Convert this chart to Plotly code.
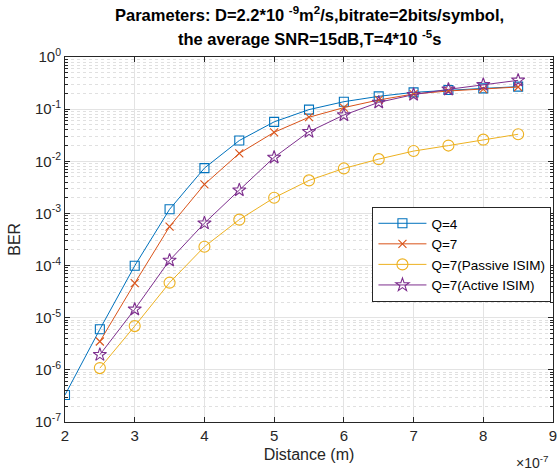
import plotly.graph_objects as go

# Distance in units of 1e-7 m
dist_q4 = [2, 2.5, 3, 3.5, 4, 4.5, 5, 5.5, 6, 6.5, 7, 7.5, 8, 8.5]
ber_q4 = [3.3e-7, 6.0e-6, 9.9e-5, 1.2e-3, 7.4e-3, 2.5e-2, 5.7e-2, 0.098, 0.139, 0.176, 0.21, 0.233, 0.25, 0.27]

dist = [2.5, 3, 3.5, 4, 4.5, 5, 5.5, 6, 6.5, 7, 7.5, 8, 8.5]
ber_q7 = [3.5e-6, 4.6e-5, 5.6e-4, 3.6e-3, 1.42e-2, 3.6e-2, 0.07, 0.107, 0.15, 0.195, 0.223, 0.243, 0.266]
ber_passive = [1.08e-6, 6.9e-6, 4.7e-5, 2.3e-4, 7.6e-4, 2.0e-3, 4.3e-3, 7.3e-3, 0.011, 0.0157, 0.020, 0.026, 0.033]
ber_active = [1.95e-6, 1.45e-5, 1.26e-4, 6.5e-4, 2.8e-3, 1.19e-2, 0.037, 0.077, 0.135, 0.19, 0.24, 0.295, 0.357]

series_names = ["Q=4", "Q=7", "Q=7(Passive ISIM)", "Q=7(Active ISIM)"]
colors = ["#0072BD", "#D95319", "#EDB120", "#7E2F8E"]

ytick_vals = [1e-7, 1e-6, 1e-5, 1e-4, 1e-3, 1e-2, 1e-1, 1e0]
ytick_text = ["10<sup>-7</sup>", "10<sup>-6</sup>", "10<sup>-5</sup>", "10<sup>-4</sup>",
              "10<sup>-3</sup>", "10<sup>-2</sup>", "10<sup>-1</sup>", "10<sup>0</sup>"]
xtick_vals = [2, 3, 4, 5, 6, 7, 8, 9]

FONT = "Liberation Sans, Arial, Helvetica, sans-serif"
AX = "#262626"

fig = go.Figure()
specs = [
    (dist_q4, ber_q4, "square-open", 9),
    (dist, ber_q7, "x-thin-open", 8),
    (dist, ber_passive, "circle-open", 11),
    (dist, ber_active, "star-open", 10),
]
for (xs, ys, sym, sz), name, c in zip(specs, series_names, colors):
    fig.add_trace(go.Scatter(
        x=xs, y=ys, mode="lines+markers", name=name,
        line=dict(color=c, width=1),
        marker=dict(symbol=sym, size=sz, color=c, line=dict(color=c, width=1.1)),
    ))

fig.update_layout(
    width=560, height=474,
    margin=dict(l=65, r=3, t=57, b=52),
    paper_bgcolor="white", plot_bgcolor="white",
    font=dict(family=FONT, size=14, color=AX),
    showlegend=True,
    legend=dict(
        x=0.63, y=0.589, xanchor="left", yanchor="top",
        bgcolor="white", bordercolor=AX, borderwidth=1,
        font=dict(size=13.5, color="black"),
        tracegroupgap=0, itemwidth=48,
    ),
    xaxis=dict(
        range=[2, 9], tickvals=xtick_vals, ticktext=[str(v) for v in xtick_vals],
        ticks="inside", ticklen=5, tickcolor=AX, tickwidth=1,
        showline=True, linecolor=AX, linewidth=1, mirror="ticks",
        showgrid=True, gridcolor="#e3e3e3", gridwidth=1, zeroline=False,
        tickfont=dict(size=15, color=AX), ticklabeloverflow="allow",
        title=dict(text="Distance (m)", font=dict(size=16, color=AX), standoff=5),
    ),
    yaxis=dict(
        type="log", range=[-7, 0], tickvals=ytick_vals, ticktext=ytick_text,
        ticks="inside", ticklen=5, tickcolor=AX, tickwidth=1,
        showline=True, linecolor=AX, linewidth=1, mirror="ticks",
        showgrid=True, gridcolor="#e3e3e3", gridwidth=1, zeroline=False,
        tickfont=dict(size=15, color=AX),
        minor=dict(ticks="inside", ticklen=3, tickcolor=AX, dtick="D1",
                   showgrid=True, gridcolor="#e0e0e0", griddash="dot", gridwidth=1),
    ),
    annotations=[
        dict(text="<b>Parameters: D=2.2*10 <sup>-9</sup>m<sup>2</sup>/s,bitrate=2bits/symbol,</b>",
             xref="paper", yref="paper", x=0.5, y=1.117, xanchor="center", yanchor="middle",
             showarrow=False, font=dict(size=16.5, color="black", family=FONT)),
        dict(text="<b>the average SNR=15dB,T=4*10 <sup>-5</sup>s</b>",
             xref="paper", yref="paper", x=0.5, y=1.052, xanchor="center", yanchor="middle",
             showarrow=False, font=dict(size=16.5, color="black", family=FONT)),
        dict(text="×10<sup>-7</sup>", xref="paper", yref="paper", x=0.994, y=-0.11,
             xanchor="right", yanchor="middle", showarrow=False,
             font=dict(size=14, color=AX, family=FONT)),
        dict(text="BER", xref="paper", yref="paper", x=-0.104, y=0.5,
             xanchor="center", yanchor="middle", textangle=-90, showarrow=False,
             font=dict(size=16, color=AX, family=FONT)),
    ],
)

fig.write_html("out.html")
